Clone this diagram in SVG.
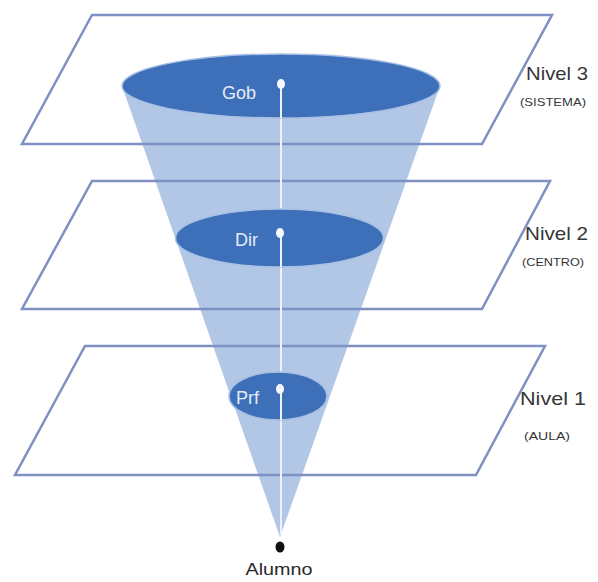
<svg xmlns="http://www.w3.org/2000/svg" width="598" height="582" viewBox="0 0 598 582">
<style>
.plane{fill:none;stroke:#7f90c2;stroke-width:2.5;stroke-linejoin:miter}
.disc{fill:#3d70b8;stroke:#a9c0e6;stroke-width:1.5}
.dl{font-family:"Liberation Sans",Arial,sans-serif;font-size:18px;fill:#e4ecf8}
.nv{font-family:"Liberation Sans",Arial,sans-serif;font-size:19px;fill:#363636}
.sb{font-family:"Liberation Sans",Arial,sans-serif;font-size:11px;fill:#363636}
.dot{fill:#f4f8fe}
</style>
<rect width="598" height="582" fill="#ffffff"/>
<g id="cone">
<path d="M122,86 L280,537 L440,86 Z" fill="#b2c6e6"/>
</g>
<g id="planes">
<polygon id="plane3" class="plane" points="92,15 552,15 482,144 22,144"/>
<polygon id="plane2" class="plane" points="92,181 550,181 482,309 22,309"/>
<polygon id="plane1" class="plane" points="85,346 545,346 476,475 15,475"/>
</g>
<g id="connectors">
<line x1="281" y1="86" x2="281" y2="534" stroke="#eef3fb" stroke-width="2"/>
</g>
<g id="gob">
<ellipse class="disc" cx="281" cy="86" rx="159" ry="32"/>
<line x1="281" y1="86" x2="281" y2="118" stroke="#eef3fb" stroke-width="2"/>
<ellipse class="dot" cx="281" cy="84" rx="4" ry="5"/>
<text class="dl" x="222" y="99">Gob</text>
</g>
<g id="dir">
<ellipse class="disc" cx="279.5" cy="238" rx="104" ry="29"/>
<line x1="281" y1="234" x2="281" y2="267" stroke="#eef3fb" stroke-width="2"/>
<ellipse class="dot" cx="280" cy="233" rx="4" ry="5"/>
<text class="dl" x="235" y="246">Dir</text>
</g>
<g id="prf">
<ellipse class="disc" cx="278" cy="396" rx="49" ry="24"/>
<line x1="281" y1="389" x2="281" y2="420" stroke="#eef3fb" stroke-width="2"/>
<ellipse class="dot" cx="280" cy="389" rx="4" ry="5"/>
<text class="dl" x="236" y="404">Prf</text>
</g>
<g id="alumno">
<ellipse cx="280" cy="547" rx="4.5" ry="5.5" fill="#111111"/>
<text x="279" y="575" text-anchor="middle" font-family="'Liberation Sans',Arial,sans-serif" font-size="17" fill="#2a2a2a" textLength="67" lengthAdjust="spacingAndGlyphs">Alumno</text>
</g>
<g id="nivel3">
<text class="nv" x="526" y="80" textLength="62" lengthAdjust="spacingAndGlyphs">Nivel 3</text>
<text class="sb" x="520" y="106" textLength="66" lengthAdjust="spacingAndGlyphs">(SISTEMA)</text>
</g>
<g id="nivel2">
<text class="nv" x="525" y="240" textLength="63" lengthAdjust="spacingAndGlyphs">Nivel 2</text>
<text class="sb" x="522" y="266" textLength="62" lengthAdjust="spacingAndGlyphs">(CENTRO)</text>
</g>
<g id="nivel1">
<text class="nv" x="520" y="405" textLength="66" lengthAdjust="spacingAndGlyphs">Nivel 1</text>
<text class="sb" x="524" y="440" textLength="46" lengthAdjust="spacingAndGlyphs">(AULA)</text>
</g>
</svg>
